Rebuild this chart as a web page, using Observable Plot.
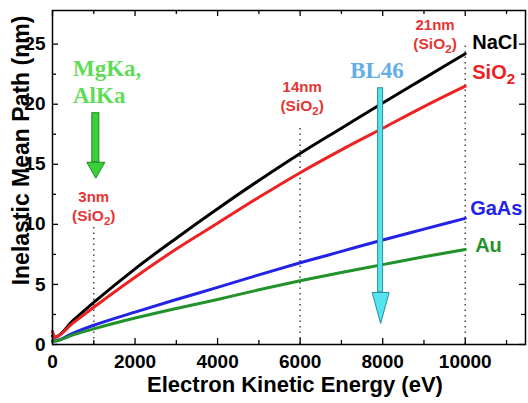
<!DOCTYPE html>
<html>
<head>
<meta charset="utf-8">
<script src="https://cdn.jsdelivr.net/npm/d3@7"></script>
<script src="https://cdn.jsdelivr.net/npm/@observablehq/plot@0.6"></script>
<style>
  body { margin: 0; background: #fff; }
  svg { font-family: "Liberation Sans", Arial, sans-serif; }
</style>
</head>
<body>
<div id="chart"></div>
<script>
// ---- data ----
const energy = [0, 50, 500, 1000, 2000, 3000, 4000, 5000, 6000, 7000, 8000, 9000, 10000];
const nacl   = [0.7, 0.6, 2.0, 3.5, 6.3, 8.85, 11.3, 13.65, 15.9, 18.0, 20.1, 22.15, 24.2];
const sio2   = [1.1, 0.6, 1.8, 3.1, 5.6, 7.95, 10.1, 12.25, 14.3, 16.2, 18.0, 19.8, 21.5];
const gaas   = [0.3, 0.3, 0.95, 1.6, 2.7, 3.75, 4.75, 5.8, 6.8, 7.75, 8.7, 9.6, 10.5];
const au     = [0.3, 0.3, 0.8, 1.3, 2.2, 3.0, 3.75, 4.55, 5.3, 6.0, 6.65, 7.3, 7.9];

const seriesNames  = ["NaCl", "SiO2", "GaAs", "Au"];
const seriesColors = ["#000000", "#ee2222", "#2323e6", "#23922a"];

const xMajor = [0, 2000, 4000, 6000, 8000, 10000];
const xMinor = [1000, 3000, 5000, 7000, 9000, 11000];
const yMajor = [0, 5, 10, 15, 20, 25];
const yMinor = [2.5, 7.5, 12.5, 17.5, 22.5];

// vertical dotted markers (probe depth in SiO2)
const markerEnergy = [1000, 6000, 10000];
const markerTop    = [9.8, 18.1, 25.1];
const markerDepth  = ["3nm", "14nm", "21nm"];
const markerLabelX = [1000, 6050, 9270];
const markerLabelY = [12.25, 21.4, 26.6];

// series end labels
const endLabelX = [10170, 10170, 10120, 10240];
const endLabelY = [25.1, 22.6, 11.33, 8.25];

// light-source annotations
const sourceLabels = [
  {text: "MgKa,", x: 497, y: 23.0, color: "#5fdc55"},
  {text: "AlKa",  x: 497, y: 20.75, color: "#5fdc55"},
  {text: "BL46",  x: 7212, y: 22.83, color: "#63aee8"}
];
const arrows = [
  {x: 1050, top: 19.25, base: 15.17, fill: "#3ad03a", stroke: "#1b8a1b", half: 85, hw: 18, hh: 16},
  {x: 7950, top: 21.33, base: 4.33, fill: "#55e3ef", stroke: "#2b8f9a", half: 60, hw: 17, hh: 31}
];

const xTitle = "Electron Kinetic Energy (eV)";
const yTitle = "Inelastic Mean Path (nm)";

// ---- build tables ----
const lines = [];
const allSeries = [nacl, sio2, gaas, au];
seriesNames.forEach((name, k) => energy.forEach((e, i) => lines.push({series: name, e, v: allSeries[k][i]})));

const markers = markerEnergy.map((e, i) => ({e, top: markerTop[i], depth: markerDepth[i], lx: markerLabelX[i], ly: markerLabelY[i]}));
const endLabels = seriesNames.map((name, i) => ({name, x: endLabelX[i], y: endLabelY[i], color: seriesColors[i]}));

const yTopVal = 27.8;
const xMaxVal = 11460;

function headSymbol(w, h) {
  return {draw(ctx) { ctx.moveTo(-w / 2, 0); ctx.lineTo(w / 2, 0); ctx.lineTo(0, h); ctx.closePath(); }};
}

const tickLenY = 0.5, tickLenYm = 0.33, tickLenX = 145, tickLenXm = 97;

const marks = [
  // dotted markers
  Plot.ruleX(markers, {x: "e", y1: 0, y2: "top", stroke: "#555", strokeWidth: 1.6, strokeDasharray: "1.5,4"}),
  // series lines
  Plot.line(lines, {x: "e", y: "v", z: "series", stroke: "series", strokeWidth: 3, curve: "monotone-x"}),
  // frame
  Plot.frame({stroke: "#000", strokeWidth: 1.5}),
  // inner ticks: bottom/top
  Plot.ruleX(xMajor, {x: d => d, y1: 0, y2: tickLenY, stroke: "#000", strokeWidth: 1.3}),
  Plot.ruleX(xMinor, {x: d => d, y1: 0, y2: tickLenYm, stroke: "#000", strokeWidth: 1.3}),
  Plot.ruleX(xMajor, {x: d => d, y1: yTopVal, y2: yTopVal - tickLenY, stroke: "#000", strokeWidth: 1.3}),
  Plot.ruleX(xMinor, {x: d => d, y1: yTopVal, y2: yTopVal - tickLenYm, stroke: "#000", strokeWidth: 1.3}),
  // inner ticks: left/right
  Plot.ruleY(yMajor, {y: d => d, x1: 0, x2: tickLenX, stroke: "#000", strokeWidth: 1.3}),
  Plot.ruleY(yMinor, {y: d => d, x1: 0, x2: tickLenXm, stroke: "#000", strokeWidth: 1.3}),
  Plot.ruleY(yMajor, {y: d => d, x1: xMaxVal, x2: xMaxVal - tickLenX, stroke: "#000", strokeWidth: 1.3}),
  Plot.ruleY(yMinor, {y: d => d, x1: xMaxVal, x2: xMaxVal - tickLenXm, stroke: "#000", strokeWidth: 1.3}),
  // axes (labels only)
  Plot.axisX(xMajor, {tickSize: 0, tickPadding: 10, fontSize: 19, fontWeight: "bold", tickFormat: d => String(d), label: null}),
  Plot.axisY(yMajor, {tickSize: 0, tickPadding: 7, fontSize: 19, fontWeight: "bold", tickFormat: d => String(d), label: null}),
  // axis titles
  Plot.text([xTitle], {text: d => d, frameAnchor: "bottom", textAnchor: "middle", dx: 6, dy: 47, fontSize: 22, fontWeight: "bold", fill: "#000"}),
  Plot.text([yTitle], {text: d => d, frameAnchor: "left", textAnchor: "middle", rotate: -90, dx: -31, dy: -27, fontSize: 23, fontWeight: "bold", fill: "#000"}),
  // marker depth labels
  Plot.text(markers, {x: "lx", y: "ly", text: "depth", fill: "#e53535", fontSize: 15, fontWeight: "bold"}),
  Plot.text(markers, {x: "lx", y: "ly", text: () => "(SiO2)", dy: 19, fill: "#e53535", fontSize: 15.5, fontWeight: "bold"}),
  // arrows
  Plot.rect(arrows, {x1: d => d.x - d.half, x2: d => d.x + d.half, y1: "base", y2: "top", fill: "fill", stroke: "stroke", strokeWidth: 1}),
  ...arrows.map(a => Plot.dot([a], {x: "x", y: "base", symbol: headSymbol(a.hw, a.hh), r: 5, fill: "fill", stroke: "stroke", strokeWidth: 1})),
  // source labels
  Plot.text(sourceLabels, {x: "x", y: "y", text: "text", fill: "color", textAnchor: "start", fontFamily: "Liberation Serif, Times New Roman, serif", fontWeight: "bold", fontSize: 23}),
  // end labels
  Plot.text(endLabels, {x: "x", y: "y", text: "name", fill: "color", textAnchor: "start", fontSize: 20, fontWeight: "bold"})
];

const chart = Plot.plot({
  width: 528,
  height: 403,
  marginTop: 10,
  marginBottom: 59,
  marginLeft: 52,
  marginRight: 3,
  x: {domain: [0, xMaxVal], axis: null},
  y: {domain: [0, yTopVal], axis: null},
  color: {domain: seriesNames, range: seriesColors},
  style: {background: "#fff", overflow: "visible"},
  marks
});

// render "SiO2" with a subscript 2
d3.select(chart).selectAll("text").each(function () {
  if (this.children.length === 0 && this.textContent.includes("SiO2")) {
    const t = this.textContent;
    const i = t.indexOf("SiO2") + 3;
    const sel = d3.select(this);
    sel.text(null);
    sel.append("tspan").text(t.slice(0, i));
    sel.append("tspan").attr("baseline-shift", "-30%").attr("font-size", "75%").text("2");
    if (i + 1 < t.length) sel.append("tspan").text(t.slice(i + 1));
  }
});

document.getElementById("chart").appendChild(chart);
</script>
</body>
</html>
